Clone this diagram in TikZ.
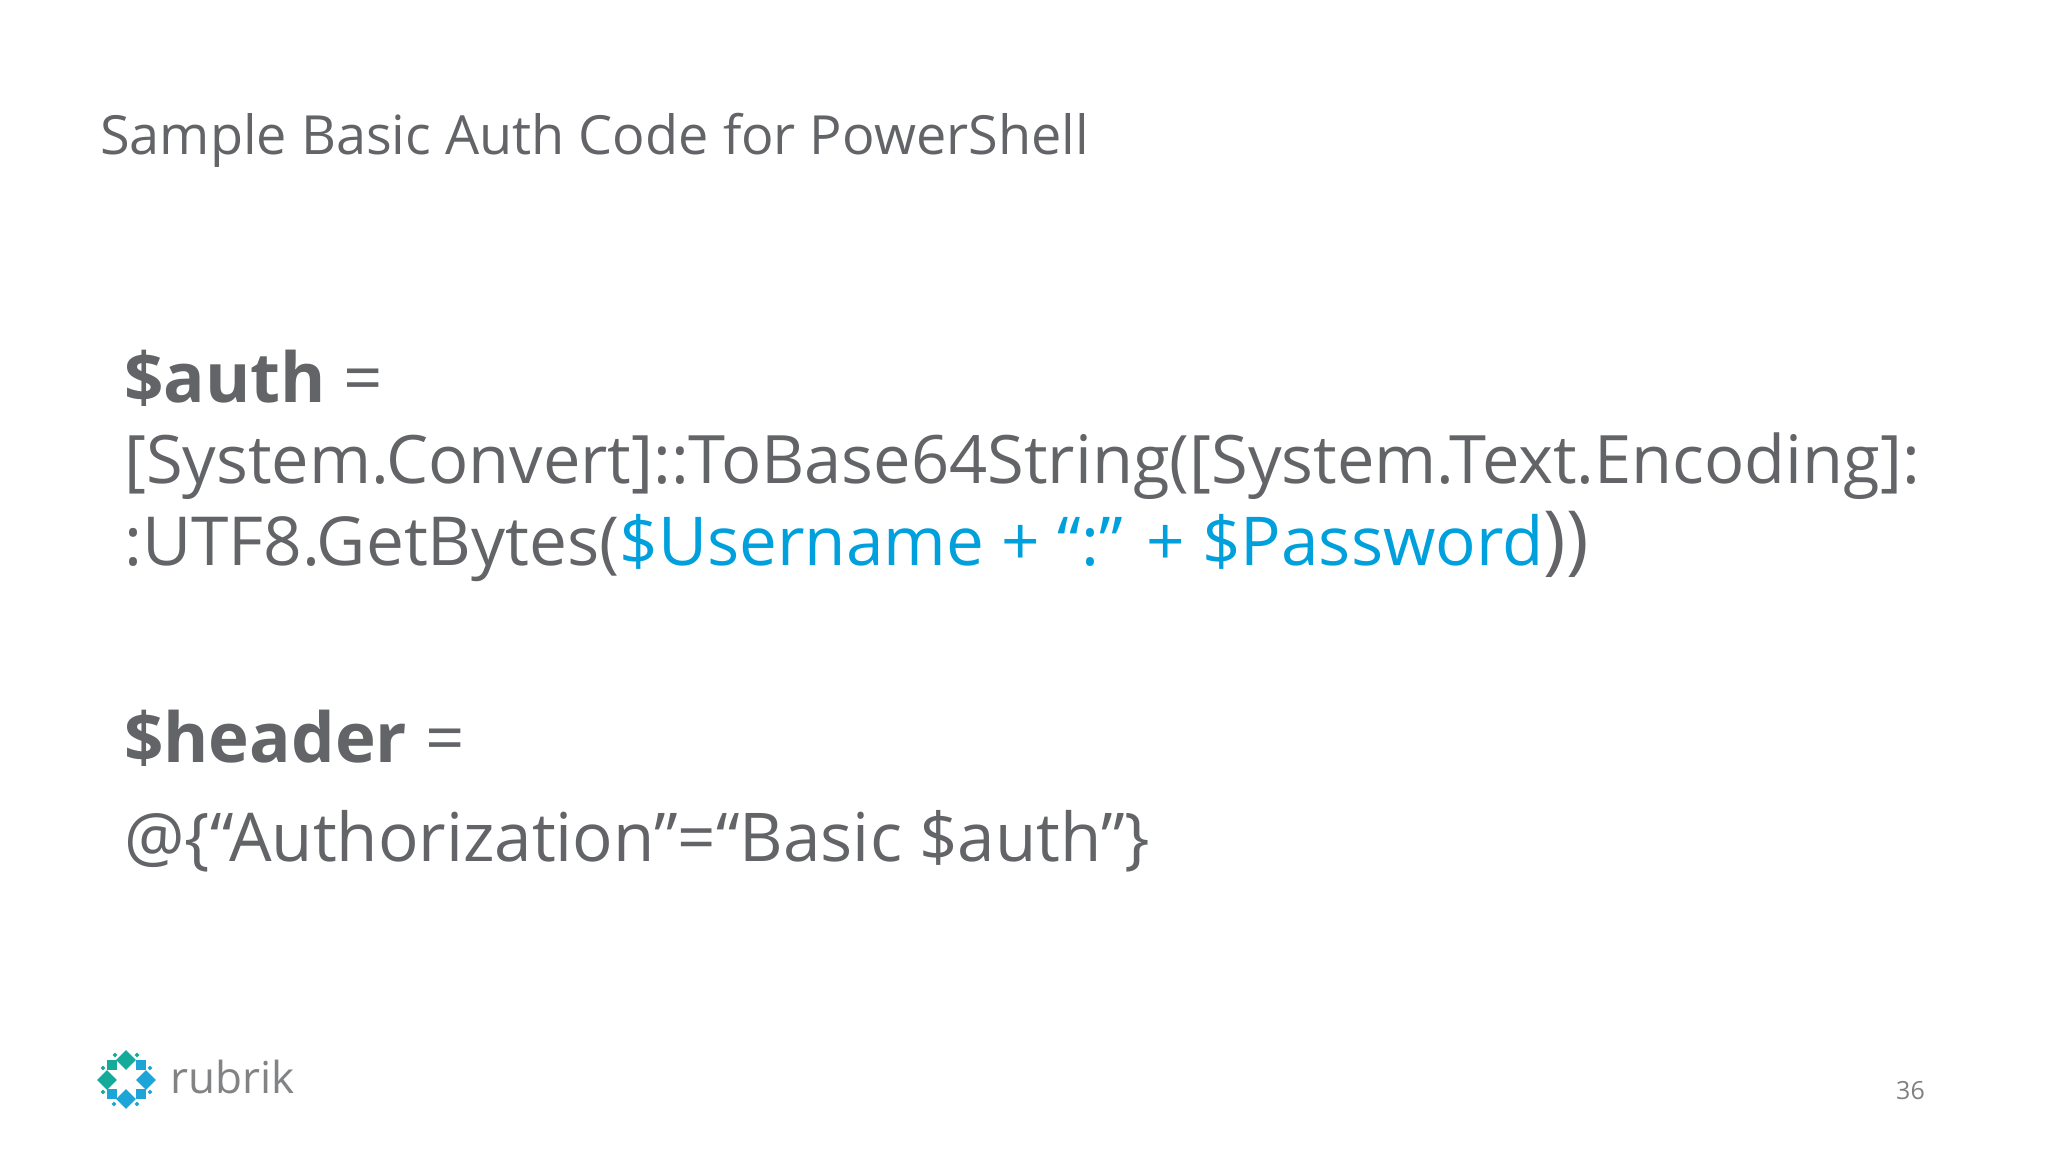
\documentclass[tikz,border=0pt]{standalone}
\usepackage{fontspec}
\setmainfont{Open Sans}
\usetikzlibrary{shapes.geometric}
\definecolor{slategray}{RGB}{98,100,103}
\definecolor{codeblue}{RGB}{0,160,220}
\definecolor{tealmark}{RGB}{22,170,155}
\definecolor{bluemark}{RGB}{30,165,215}
\newcommand{\codesize}[1]{\fontsize{#1}{80}\selectfont}
\tikzset{
  codeline/.style={anchor=base west, inner sep=0pt, text=slategray},
  bigdot/.style={diamond, aspect=1, inner sep=0pt, minimum size=20pt},
  boxdot/.style={rectangle, inner sep=0pt, minimum size=9.5pt},
  tinydot/.style={diamond, aspect=1, inner sep=0pt, minimum size=5pt}
}
\begin{document}
\begin{tikzpicture}[x=1pt,y=-1pt]
\useasboundingbox (0,0) rectangle (2048,1152);
\node[anchor=base west, inner sep=0pt, text=slategray, font=\fontsize{54}{66}\selectfont] (title) at (100,154) {Sample Basic Auth Code for PowerShell};
\node[codeline, font=\codesize{69}] (authline) at (124,402) {\textbf{\$auth} =};
\node[codeline, font=\codesize{66.8}] (convertline) at (124,483) {[System.Convert]::ToBase64String([System.Text.Encoding]:};
\node[codeline, font=\codesize{67.6}] (utfline) at (124,565) {:UTF8.GetBytes(\textcolor{codeblue}{\codesize{67.4}\$Username + “:” + \$Password}\codesize{76}))};
\node[codeline, font=\codesize{69}] (headerline) at (124,762) {\textbf{\$header} =};
\node[codeline, font=\codesize{67.3}] (hashline) at (124,861) {@\{“Authorization”=“Basic \$auth”\}};
\node[anchor=base west, inner sep=0pt, text=slategray!80, font=\fontsize{44}{60}\selectfont] (brand) at (170,1093) {rubrik};
\node[anchor=base east, inner sep=0pt, text=gray, font=\fontsize{25}{30}\selectfont] (pagenum) at (1925,1099) {36};
% logo
\foreach \px/\py/\col in {126/1060/tealmark,107/1080/tealmark,146/1080/bluemark,126/1099/bluemark}
  \node[bigdot, fill=\col] at (\px,\py) {};
\foreach \px/\py/\col in {112/1065/tealmark,141/1065/bluemark,112/1094/bluemark,141/1094/bluemark}
  \node[boxdot, fill=\col] at (\px,\py) {};
\foreach \px/\py/\col in {115/1055/tealmark,137/1055/tealmark,103/1068/tealmark,150/1068/bluemark,103/1092/tealmark,150/1092/bluemark,114/1104/bluemark,137/1104/bluemark}
  \node[tinydot, fill=\col] at (\px,\py) {};
\end{tikzpicture}
\end{document}
